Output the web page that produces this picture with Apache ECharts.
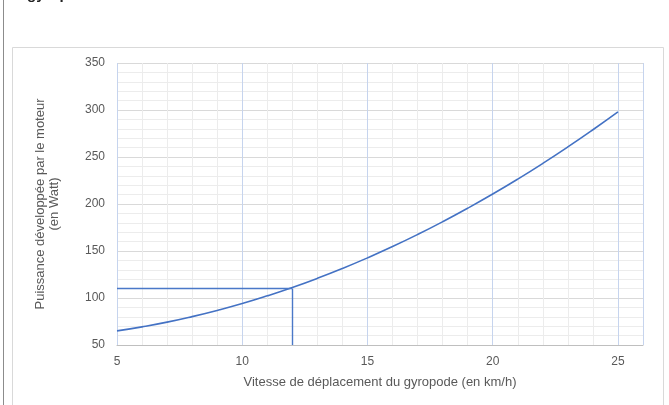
<!DOCTYPE html>
<html><head><meta charset="utf-8">
<script src="https://cdn.jsdelivr.net/npm/echarts@6/dist/echarts.min.js"></script>
<style>html,body{margin:0;padding:0;background:#fff}#c{width:669px;height:405px}</style>
</head><body><div id="c"></div>
<script>
const speeds = [5,6,7,8,9,10,11,12,13,14,15,16,17,18,19,20,21,22,23,24,25];
const power  = [65.0,69.3,74.3,80.2,86.8,94.1,102.3,111.2,120.9,131.4,142.7,154.7,167.5,181.1,195.5,210.6,226.5,243.2,260.7,279.0,298.0];
const readSpeed = 12;
const readPower = 110;
const xTitle = 'Vitesse de déplacement du gyropode (en km/h)';
const yTitle = 'Puissance développée par le moteur\n(en Watt)';

const chart = echarts.init(document.getElementById('c'), null, {renderer:'canvas'});
chart.setOption({
  animation:false,
  backgroundColor:'#fff',
  graphic:[
    {type:'line', shape:{x1:3.5,y1:0,x2:3.5,y2:405}, style:{stroke:'#8c8c8c',lineWidth:1}},
    {type:'rect', shape:{x:12.5,y:47.5,width:651,height:370}, style:{fill:'none',stroke:'#d9d9d9',lineWidth:1}},
    {type:'text', x:27, y:2, style:{text:'gyropode', font:'bold 15px "Liberation Sans", Arial', fill:'#222', verticalAlign:'bottom'}}
  ],
  grid:{left:117, right:26, top:63, bottom:60},
  xAxis:{
    type:'value', min:5, max:26, interval:5,
    name:xTitle, nameLocation:'middle', nameGap:31,
    nameTextStyle:{color:'#595959', fontSize:13, fontFamily:'Liberation Sans, Arial'},
    axisLine:{show:true, lineStyle:{color:'#bfbfbf'}},
    axisTick:{show:false},
    axisLabel:{color:'#595959', fontSize:12, fontFamily:'Liberation Sans, Arial', margin:11,
      formatter:function(v){return v===26?'':String(v);}},
    splitLine:{show:true, lineStyle:{color:'#c6d4ee', width:1}},
    minorTick:{show:false, splitNumber:5},
    minorSplitLine:{show:true, lineStyle:{color:'#ececec', width:1}}
  },
  yAxis:{
    type:'value', min:50, max:350, interval:50,
    name:yTitle, nameLocation:'middle', nameGap:56, nameRotate:90,
    nameTextStyle:{color:'#595959', fontSize:13, fontFamily:'Liberation Sans, Arial', lineHeight:14, align:'center'},
    axisLine:{show:false},
    axisTick:{show:false},
    axisLabel:{color:'#595959', fontSize:12, fontFamily:'Liberation Sans, Arial', margin:12},
    splitLine:{show:true, lineStyle:{color:'#d9d9d9', width:1}},
    minorTick:{show:false, splitNumber:5},
    minorSplitLine:{show:true, lineStyle:{color:'#ececec', width:1}}
  },
  series:[{
    type:'line', smooth:true, showSymbol:false, symbol:'none',
    data: speeds.map((s,i)=>[s, power[i]]),
    lineStyle:{color:'#4472c4', width:1.6},
    markLine:{
      silent:true, symbol:'none', label:{show:false},
      lineStyle:{color:'#4a78c8', width:1.4, type:'solid'},
      data:[
        [{coord:[5, readPower]},{coord:[readSpeed, readPower]}],
        [{coord:[readSpeed, 50]},{coord:[readSpeed, readPower]}]
      ]
    }
  }]
});
</script></body></html>
